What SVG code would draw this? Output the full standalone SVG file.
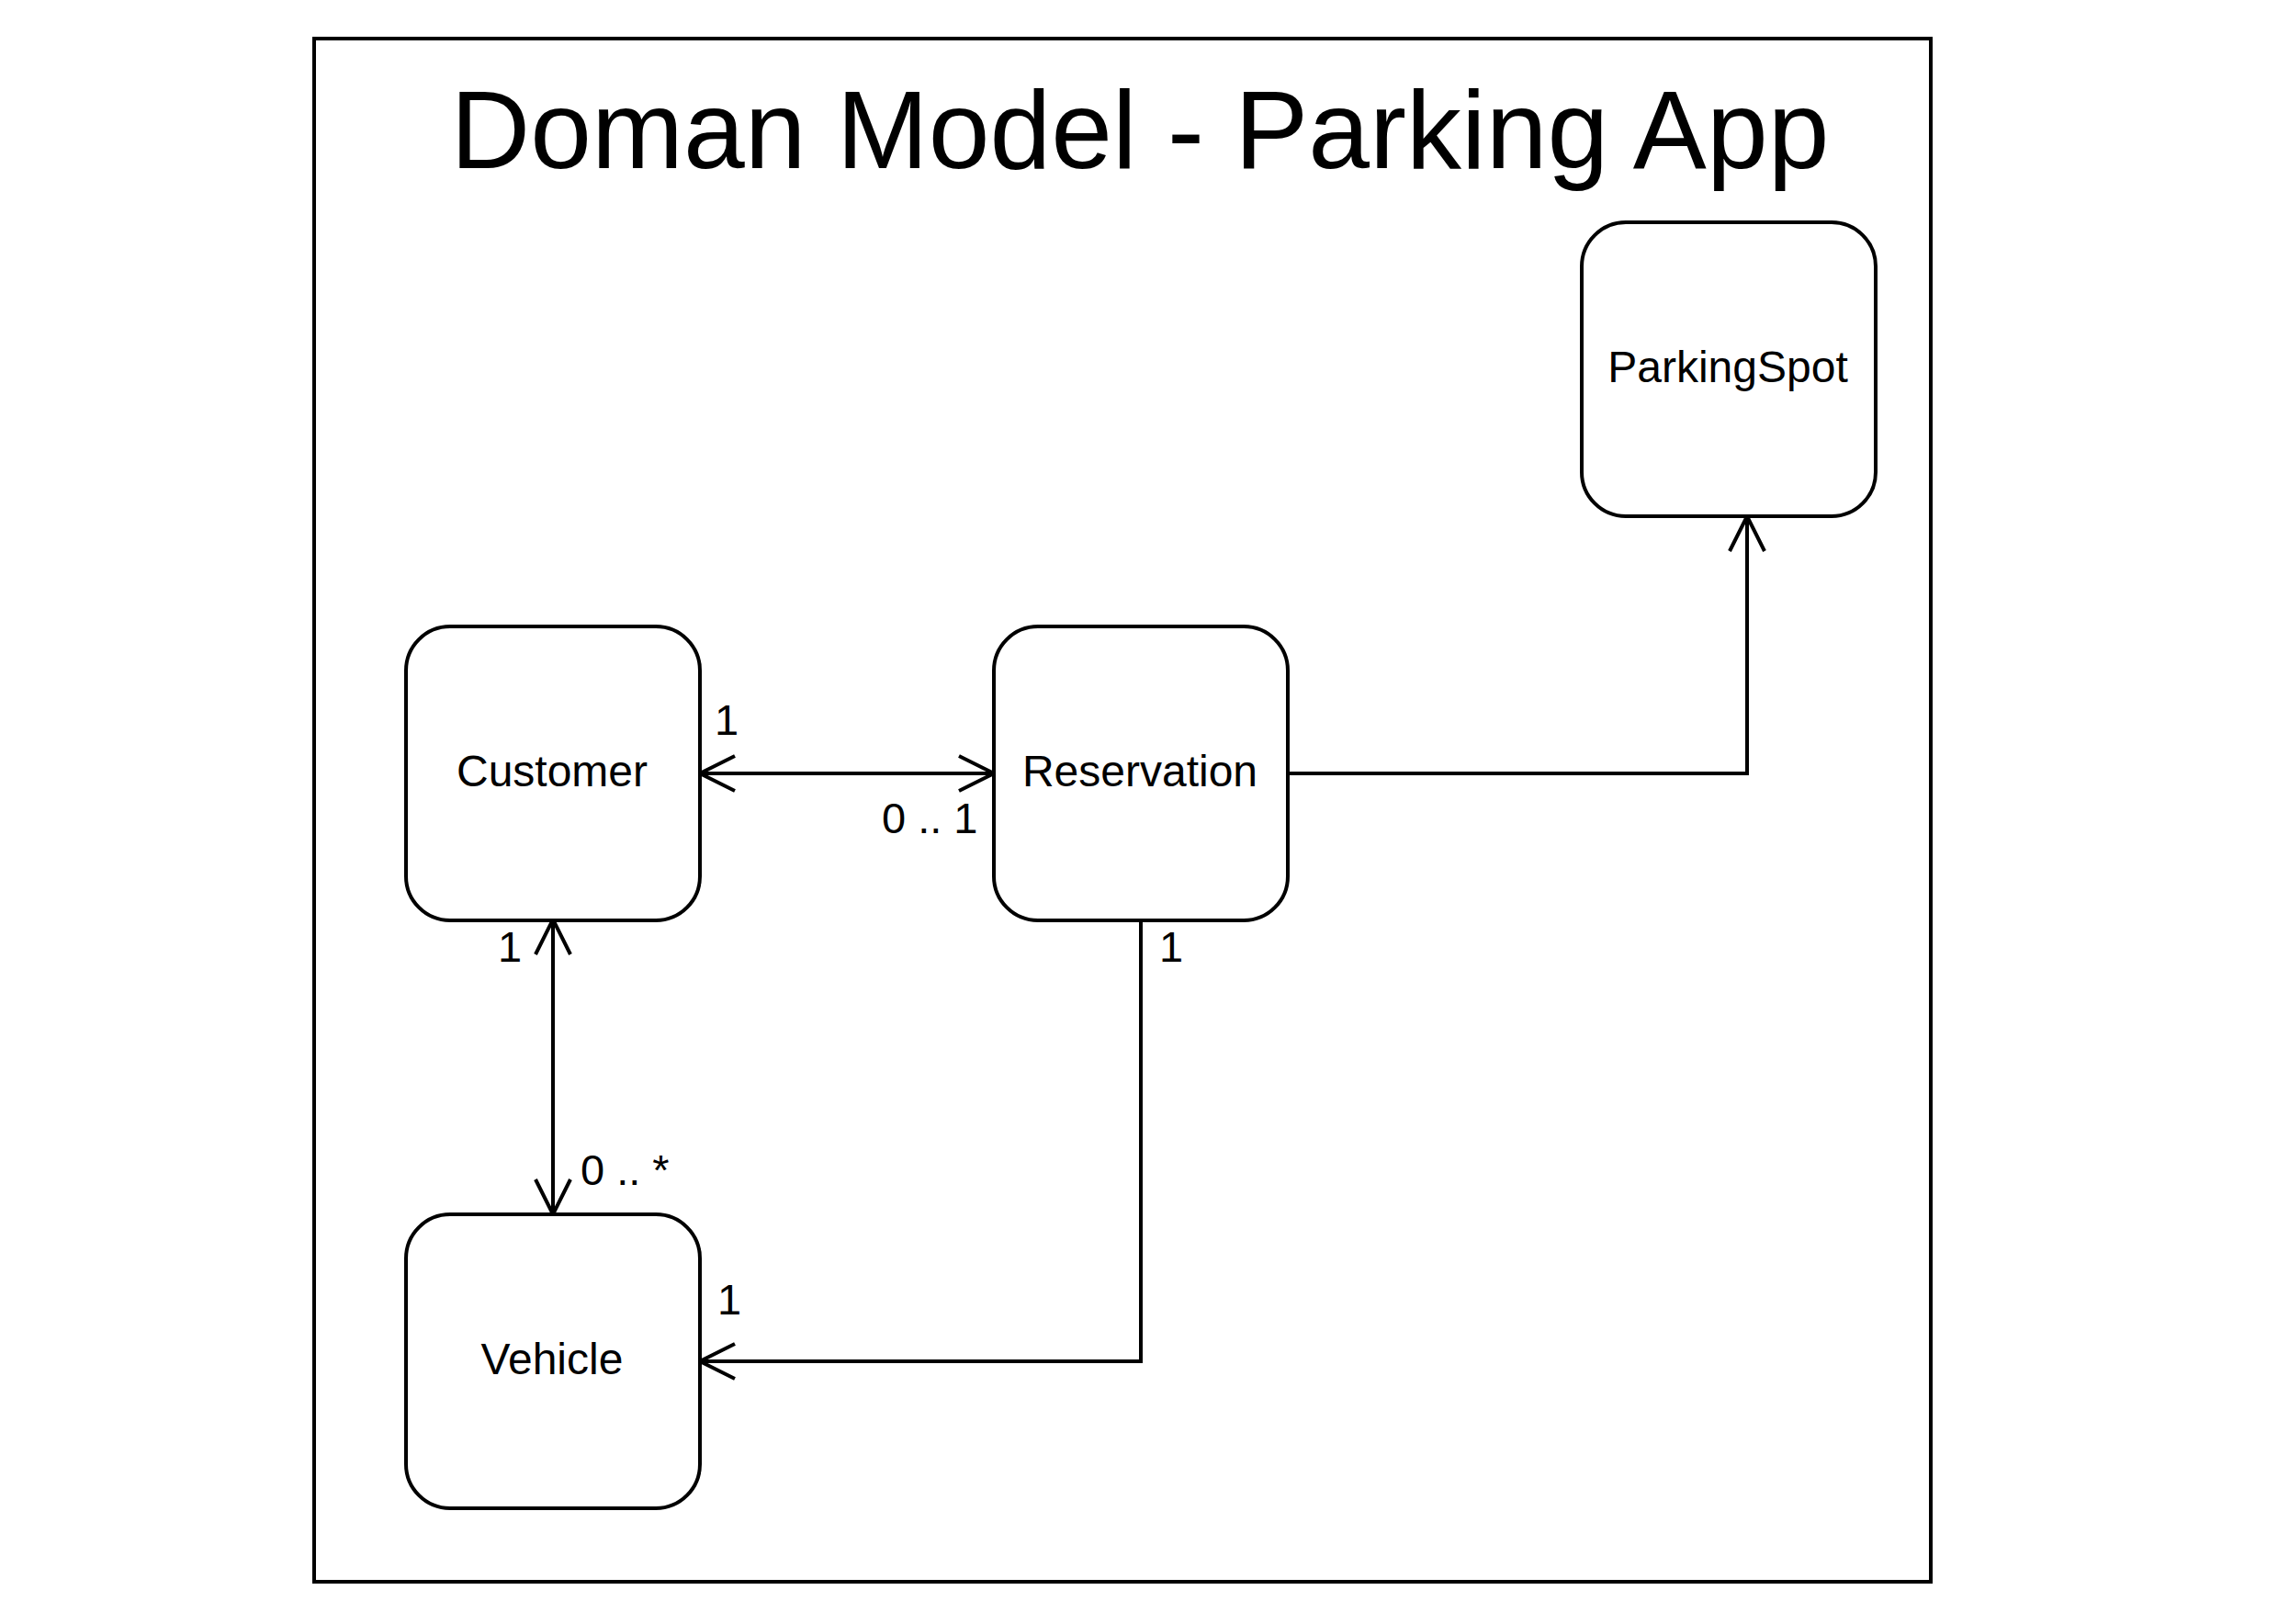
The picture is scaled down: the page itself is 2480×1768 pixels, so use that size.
<svg xmlns="http://www.w3.org/2000/svg" width="2480" height="1768" viewBox="0 0 2480 1768">
  <style>
    .frame { fill: #ffffff; stroke: #000000; stroke-width: 4; }
    .node { fill: #ffffff; stroke: #000000; stroke-width: 4; }
    .lbl { font-family: "Liberation Sans", Arial, sans-serif; font-size: 47px; fill: #000000; }
    .name { font-family: "Liberation Sans", Arial, sans-serif; font-size: 48px; fill: #000000; }
    .title { font-family: "Liberation Sans", Arial, sans-serif; font-size: 120px; fill: #000000; }
    .edge { fill: none; stroke: #000000; stroke-width: 4; }
  </style>
  <defs>
    <marker id="open" viewBox="0 0 42 42" refX="40" refY="21" markerWidth="42" markerHeight="42" markerUnits="userSpaceOnUse" orient="auto-start-reverse">
      <path d="M2,2 L40,21 L2,40" fill="none" stroke="#000000" stroke-width="4"/>
    </marker>
  </defs>
  <rect width="2480" height="1768" fill="#ffffff"/>
  <g id="frame">
    <rect class="frame" x="342" y="42" width="1760" height="1680"/>
    <text class="title" x="1241" y="183" text-anchor="middle">Doman Model - Parking App</text>
  </g>
  <g id="connectors">
    <path class="edge" d="M762,842 L1082,842" marker-start="url(#open)" marker-end="url(#open)"/>
    <path class="edge" d="M602,1001 L602,1322" marker-start="url(#open)" marker-end="url(#open)"/>
    <path class="edge" d="M1242,1001 L1242,1482 L762,1482" marker-end="url(#open)"/>
    <path class="edge" d="M1402,842 L1902,842 L1902,562" marker-end="url(#open)"/>
    <text class="lbl" x="791" y="800" text-anchor="middle">1</text>
    <text class="lbl" x="960" y="907">0 .. 1</text>
    <text class="lbl" x="555" y="1047" text-anchor="middle">1</text>
    <text class="lbl" x="632" y="1290">0 .. *</text>
    <text class="lbl" x="794" y="1431" text-anchor="middle">1</text>
    <text class="lbl" x="1275" y="1047" text-anchor="middle">1</text>
  </g>
  <g id="parkingspot">
    <rect class="node" x="1722" y="242" width="320" height="320" rx="48" ry="48"/>
    <text class="name" x="1881" y="416" text-anchor="middle">ParkingSpot</text>
  </g>
  <g id="customer">
    <rect class="node" x="442" y="682" width="320" height="320" rx="48" ry="48"/>
    <text class="name" x="601" y="856" text-anchor="middle">Customer</text>
  </g>
  <g id="reservation">
    <rect class="node" x="1082" y="682" width="320" height="320" rx="48" ry="48"/>
    <text class="name" x="1241" y="856" text-anchor="middle">Reservation</text>
  </g>
  <g id="vehicle">
    <rect class="node" x="442" y="1322" width="320" height="320" rx="48" ry="48"/>
    <text class="name" x="601" y="1496" text-anchor="middle">Vehicle</text>
  </g>
</svg>
